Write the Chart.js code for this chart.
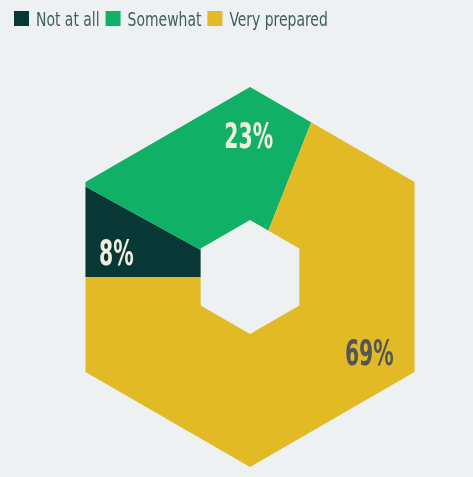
<!DOCTYPE html>
<html>
<head>
<meta charset="utf-8">
<script src="https://cdn.jsdelivr.net/npm/chart.js@4"></script>
<style>
  html, body { margin: 0; padding: 0; background: #edf1f2; }
</style>
</head>
<body>
<canvas id="chart" width="473" height="477"></canvas>
<script>
const labels = ['Not at all', 'Somewhat', 'Very prepared'];
const values = [8, 23, 69];
const colors = ['#083835', '#10b166', '#e1ba26'];
const labelColors = ['#f1ede0', '#f1ede0', '#555555'];

const FONT = '"DejaVu Sans Condensed", "Liberation Sans Narrow", sans-serif';

// legend drawn with a narrowed font
const hexLegend = {
  id: 'hexLegend',
  afterDraw(chart, args, opts) {
    const ctx = chart.ctx;
    let x = opts.x;
    ctx.save();
    ctx.font = `20px ${FONT}`;
    ctx.textBaseline = 'alphabetic';
    labels.forEach((l, i) => {
      ctx.fillStyle = colors[i];
      ctx.fillRect(x, opts.y, opts.box, opts.box);
      x += opts.box + 7;
      ctx.save();
      ctx.translate(x, opts.y + opts.box - 0.5);
      ctx.scale(opts.squeeze, 1);
      ctx.fillStyle = '#41605b';
      ctx.fillText(l, 0, 0);
      ctx.restore();
      x += ctx.measureText(l).width * opts.squeeze + 6;
    });
    ctx.restore();
  }
};

// clip arcs to a hexagon ring
const hexClip = {
  id: 'hexClip',
  beforeDatasetsDraw(chart, args, opts) {
    const arc = chart.getDatasetMeta(0).data[0];
    const { x, y } = arc;
    const ctx = chart.ctx;
    const hex = r => {
      for (let k = 0; k < 6; k++) {
        const a = -Math.PI / 2 + k * Math.PI / 3;
        const px = x + r * Math.cos(a), py = y + r * Math.sin(a);
        k ? ctx.lineTo(px, py) : ctx.moveTo(px, py);
      }
      ctx.closePath();
    };
    ctx.save();
    ctx.beginPath();
    hex(opts.outer);
    hex(opts.inner);
    ctx.clip('evenodd');
  },
  afterDatasetsDraw(chart) {
    chart.ctx.restore();
  }
};

// percentage labels
const hexLabels = {
  id: 'hexLabels',
  afterDatasetsDraw(chart, args, opts) {
    const ctx = chart.ctx;
    const arcs = chart.getDatasetMeta(0).data;
    arcs.forEach((arc, i) => {
      const spot = opts.spots[i];
      const a = spot.angle * Math.PI / 180;
      const px = arc.x + spot.dist * Math.cos(a);
      const py = arc.y + spot.dist * Math.sin(a);
      ctx.save();
      ctx.translate(px, py);
      ctx.scale(0.63, 1);
      ctx.font = `bold 36px ${FONT}`;
      ctx.fillStyle = labelColors[i];
      ctx.textAlign = 'center';
      ctx.textBaseline = 'alphabetic';
      ctx.fillText(values[i] + '%', 0, 13);
      ctx.restore();
    });
  }
};

new Chart(document.getElementById('chart'), {
  type: 'doughnut',
  data: {
    labels,
    datasets: [{
      data: values,
      backgroundColor: colors,
      borderWidth: 0,
    }]
  },
  options: {
    responsive: false,
    animation: false,
    rotation: -90,
    cutout: 40,
    layout: { padding: { left: 27, top: 77, right: 0, bottom: 0 } },
    plugins: {
      legend: { display: false },
      tooltip: { enabled: false },
      hexLegend: { x: 14, y: 11, box: 15, squeeze: 0.775 },
      hexClip: { outer: 190, inner: 57 },
      hexLabels: {
        spots: [
          { angle: 190.5, dist: 136 },
          { angle: -90.5, dist: 142 },
          { angle: 32.2, dist: 141 },
        ]
      }
    }
  },
  plugins: [hexClip, hexLabels, hexLegend]
});
</script>
</body>
</html>
